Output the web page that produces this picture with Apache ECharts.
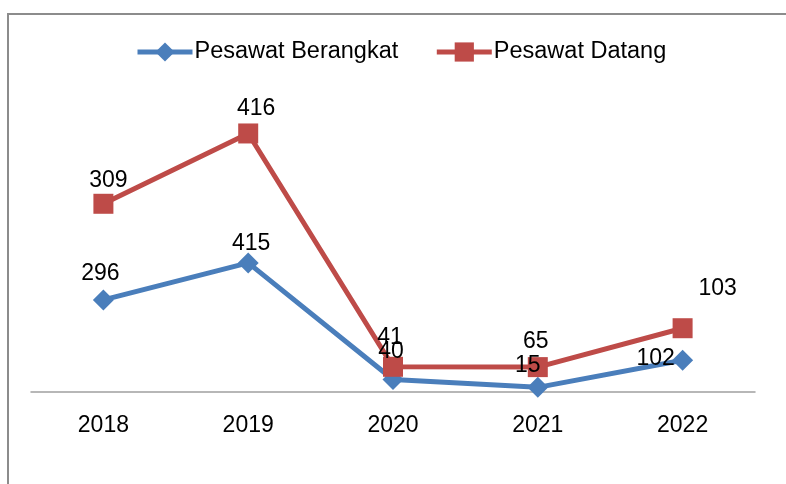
<!DOCTYPE html>
<html>
<head>
<meta charset="utf-8">
<script src="https://cdn.jsdelivr.net/npm/echarts@6/dist/echarts.min.js"></script>
<style>
  html, body { margin: 0; padding: 0; background: #fff; }
  #chart { width: 786px; height: 484px; }
</style>
</head>
<body>
<div id="chart"></div>
<script>
// data (stacked line chart, labels show own values)
var years = ['2018', '2019', '2020', '2021', '2022'];
var berangkat = [296, 415, 40, 15, 102];
var datang = [309, 416, 41, 65, 103];

// label nudges, px from each point
var offBerangkat = [[-3, -26], [3, -19], [-2, -28], [-10, -22], [-27, -2]];
var offDatang = [[5, -23], [8, -25], [-3, -29], [-2, -25], [35, -40]];

var font = 'Liberation Sans, Arial, sans-serif';

function withLabels(values, offs) {
  return values.map(function (v, i) {
    return { value: v, label: { offset: offs[i] } };
  });
}

var myChart = echarts.init(document.getElementById('chart'));
myChart.setOption({
  animation: false,
  textStyle: { fontFamily: font },
  graphic: [{
    type: 'rect',
    shape: { x: 8, y: 14, width: 800, height: 500 },
    style: { fill: 'none', stroke: '#8c8c8c', lineWidth: 2 },
    silent: true
  }],
  legend: {
    top: 35,
    left: 130,
    itemWidth: 55,
    itemHeight: 24,
    itemGap: 36,
    lineStyle: { width: 5 },
    textStyle: { fontSize: 23.5, color: '#000', fontFamily: font, padding: [0, 0, 0, -3] },
    data: ['Pesawat Berangkat', 'Pesawat Datang']
  },
  grid: { left: 31, right: 31, top: 112, bottom: 92 },
  xAxis: {
    type: 'category',
    data: years,
    axisLine: { lineStyle: { color: '#a0a0a0', width: 1.5 } },
    axisTick: { show: false },
    axisLabel: { fontSize: 23, color: '#000', margin: 22, fontFamily: font }
  },
  yAxis: {
    type: 'value',
    min: 0,
    max: 900,
    show: false,
    splitLine: { show: false }
  },
  series: [
    {
      name: 'Pesawat Berangkat',
      type: 'line',
      stack: 'total',
      data: withLabels(berangkat, offBerangkat),
      symbol: 'diamond',
      symbolSize: 21,
      color: '#4a7ebb',
      lineStyle: { width: 5, color: '#4a7ebb' },
      itemStyle: { color: '#4a7ebb' },
      label: { show: true, position: 'inside', fontSize: 23, color: '#000', fontFamily: font }
    },
    {
      name: 'Pesawat Datang',
      type: 'line',
      stack: 'total',
      data: withLabels(datang, offDatang),
      symbol: 'rect',
      symbolSize: 20,
      color: '#be4b48',
      lineStyle: { width: 5, color: '#be4b48' },
      itemStyle: { color: '#be4b48' },
      label: { show: true, position: 'inside', fontSize: 23, color: '#000', fontFamily: font }
    }
  ]
});
</script>
</body>
</html>
